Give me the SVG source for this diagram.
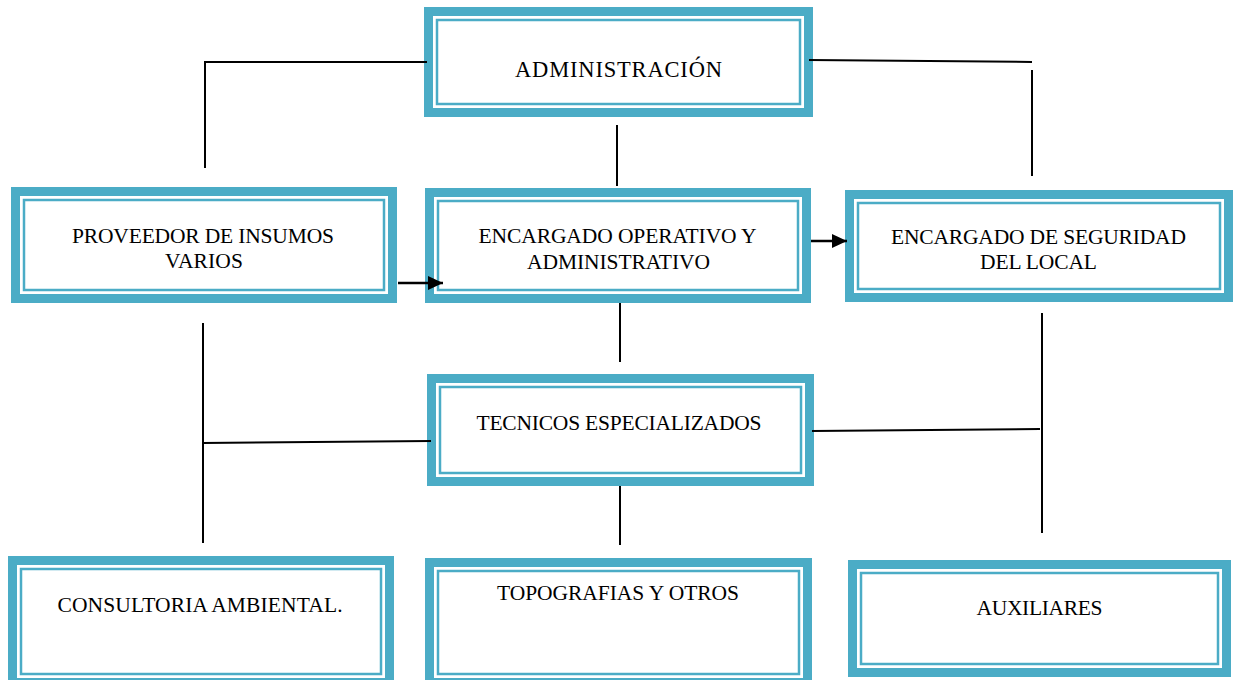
<svg xmlns="http://www.w3.org/2000/svg" width="1237" height="680" viewBox="0 0 1237 680">
<style>
.o{fill:#fff;stroke:#4BACC6;stroke-width:9}
.i{fill:none;stroke:#4BACC6;stroke-width:2.5}
.t{font-family:"Liberation Serif","Times New Roman",serif;font-size:21.5px;fill:#000;text-anchor:middle}
.c{stroke:#000;stroke-width:2;fill:none}
.a{stroke:#000;stroke-width:2.5;fill:none}
</style>
<defs>
<marker id="ah" markerWidth="15" markerHeight="14" refX="15" refY="7" orient="auto" markerUnits="userSpaceOnUse" viewBox="0 0 15 14">
<path d="M0,0 L15,7 L0,14 z" fill="#000"/>
</marker>
</defs>
<rect width="1237" height="680" fill="#fff"/>
<g id="administracion">
<rect class="o" x="428.5" y="11.5" width="380" height="101"/>
<rect class="i" x="437" y="20" width="363" height="84"/>
<text class="t" x="618.5" y="77" style="font-size:22.5px" textLength="207" lengthAdjust="spacing">ADMINISTRACIÓN</text>
</g>
<g id="proveedor">
<rect class="o" x="15.5" y="191.5" width="377" height="107"/>
<rect class="i" x="24" y="200" width="360" height="90"/>
<text class="t" x="203" y="243" textLength="262" lengthAdjust="spacing">PROVEEDOR DE INSUMOS</text>
<text class="t" x="204" y="268" textLength="78" lengthAdjust="spacing">VARIOS</text>
</g>
<g id="encargado-operativo">
<rect class="o" x="429.5" y="192.5" width="377" height="106"/>
<rect class="i" x="438" y="201" width="360" height="89"/>
<text class="t" x="617.5" y="243" textLength="278" lengthAdjust="spacing">ENCARGADO OPERATIVO Y</text>
<text class="t" x="618.5" y="269" textLength="183" lengthAdjust="spacing">ADMINISTRATIVO</text>
</g>
<g id="encargado-seguridad">
<rect class="o" x="849.5" y="194.5" width="379" height="103"/>
<rect class="i" x="858" y="203" width="362" height="86"/>
<text class="t" x="1038.5" y="244" textLength="295" lengthAdjust="spacing">ENCARGADO DE SEGURIDAD</text>
<text class="t" x="1038.5" y="269" textLength="117" lengthAdjust="spacing">DEL LOCAL</text>
</g>
<g id="tecnicos">
<rect class="o" x="431.5" y="378.5" width="378" height="103"/>
<rect class="i" x="440" y="387" width="361" height="86"/>
<text class="t" x="619" y="430" textLength="285" lengthAdjust="spacing">TECNICOS ESPECIALIZADOS</text>
</g>
<g id="consultoria">
<rect class="o" x="12.5" y="560.5" width="377" height="122"/>
<rect class="i" x="21" y="569" width="360" height="105"/>
<text class="t" x="200" y="612" textLength="285" lengthAdjust="spacing">CONSULTORIA AMBIENTAL.</text>
</g>
<g id="topografias">
<rect class="o" x="429.5" y="562.5" width="378" height="120"/>
<rect class="i" x="438" y="571" width="361" height="103"/>
<text class="t" x="618" y="600" textLength="242" lengthAdjust="spacing">TOPOGRAFIAS Y OTROS</text>
</g>
<g id="auxiliares">
<rect class="o" x="852.5" y="564.5" width="374" height="108"/>
<rect class="i" x="861" y="573" width="357" height="91"/>
<text class="t" x="1039.5" y="615" textLength="126" lengthAdjust="spacing">AUXILIARES</text>
</g>
<g id="connectors">
<polyline class="c" points="205,168 205,62 427,62"/>
<polyline class="c" points="809,60 1032,62"/>
<line class="c" x1="1032" y1="70" x2="1032" y2="176"/>
<line class="c" x1="617" y1="125" x2="617" y2="186"/>
<line class="c" x1="620" y1="303" x2="620" y2="362"/>
<line class="c" x1="620" y1="486" x2="620" y2="545"/>
<line class="c" x1="203" y1="323" x2="203" y2="543"/>
<line class="c" x1="202" y1="443" x2="431" y2="441"/>
<line class="c" x1="1042" y1="313" x2="1042" y2="533"/>
<line class="c" x1="812" y1="431" x2="1040" y2="429"/>
<line class="a" x1="398" y1="283" x2="443" y2="283" marker-end="url(#ah)"/>
<line class="a" x1="811" y1="241" x2="847" y2="241" marker-end="url(#ah)"/>
</g>
</svg>
